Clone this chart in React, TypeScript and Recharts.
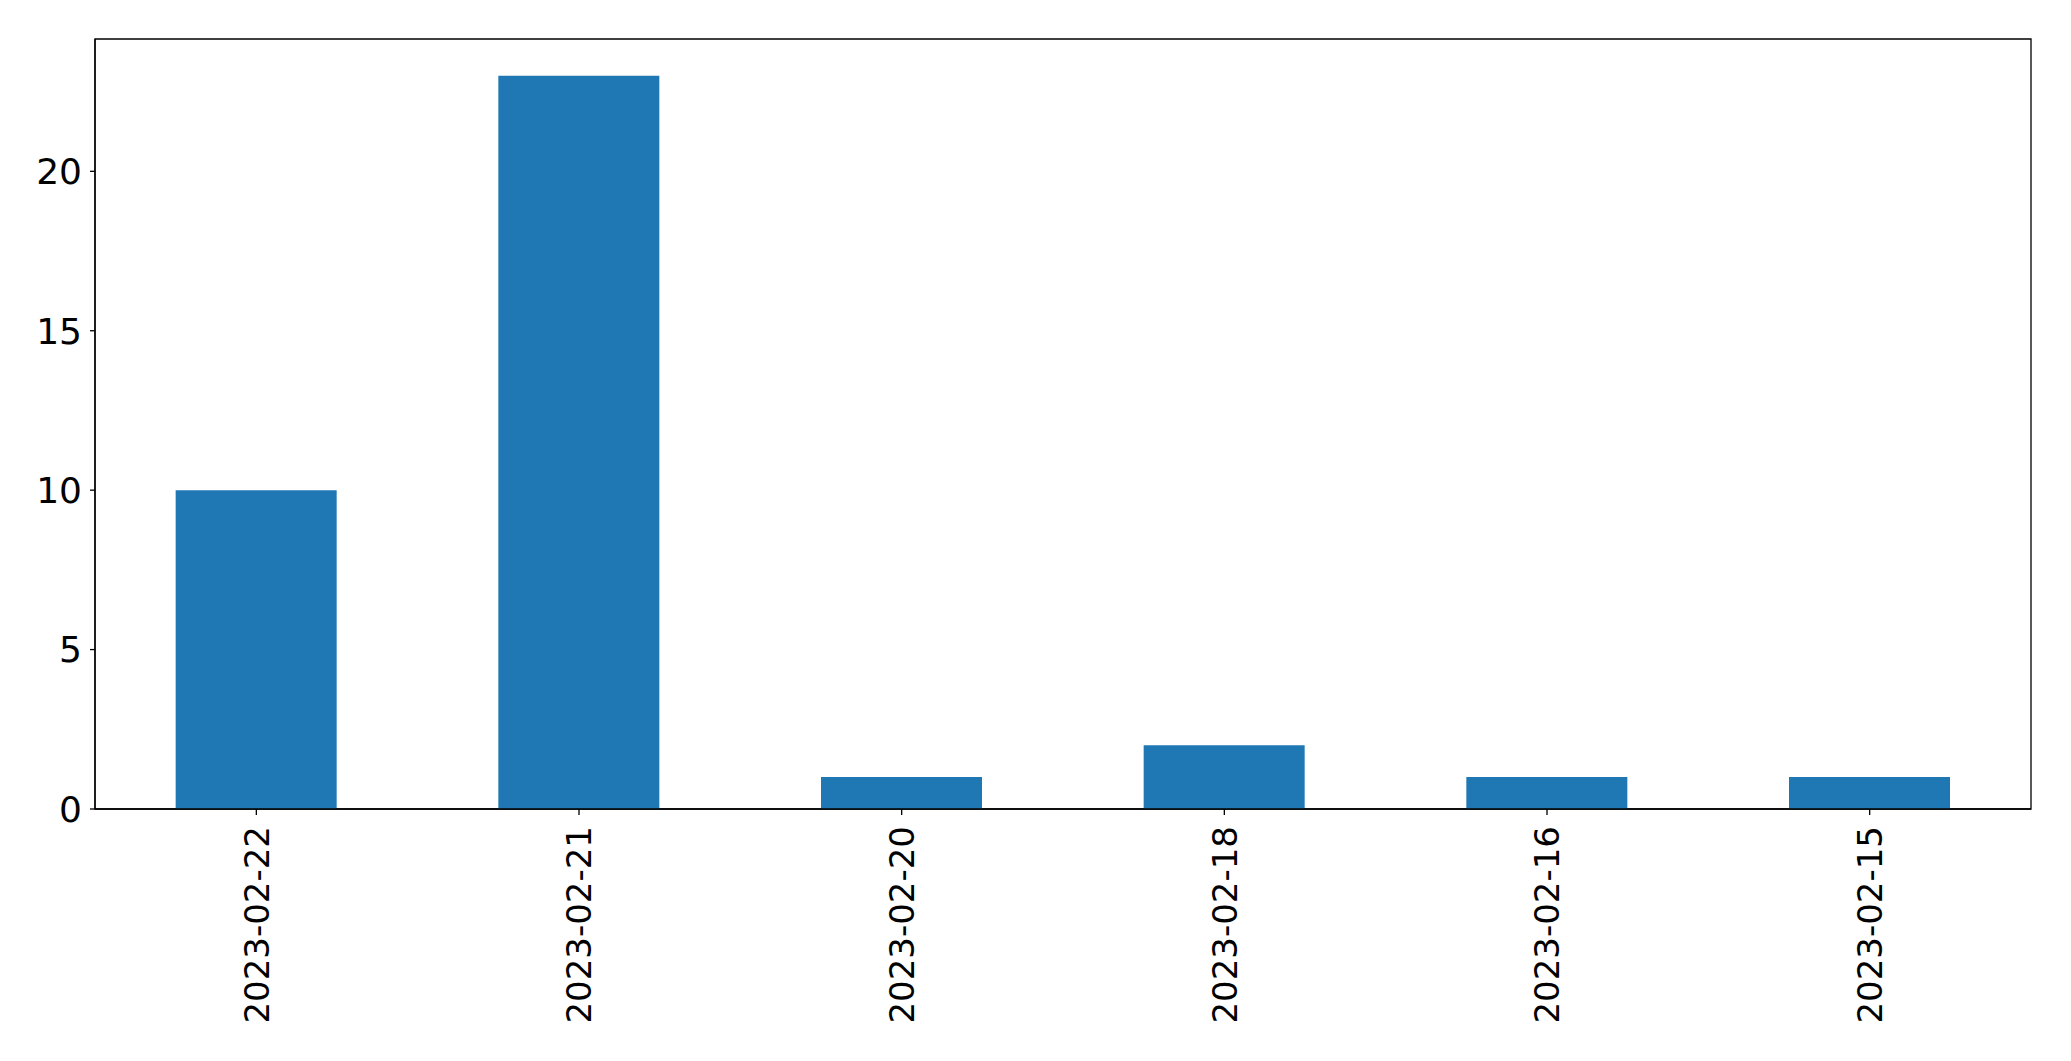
import React from 'react';
import { BarChart, Bar, XAxis, YAxis, ReferenceArea } from 'recharts';

const categories = ['2023-02-22', '2023-02-21', '2023-02-20', '2023-02-18', '2023-02-16', '2023-02-15'];
const counts = [10, 23, 1, 2, 1, 1];
const yTicks = [0, 5, 10, 15, 20];
const yMax = 24.15;

const data = categories.map((c, i) => ({ date: c, count: counts[i] }));

const FONT = 'DejaVu Sans, sans-serif';

const XTick = (props: any) => {
  const { x, y, payload } = props;
  return (
    <g transform={`translate(${x},${y})`}>
      <text
        transform="rotate(-90)"
        textAnchor="end"
        dy="0.36em"
        fill="#000"
        fontSize={34}
        fontFamily={FONT}
      >
        {payload.value}
      </text>
    </g>
  );
};

export default function App() {
  return (
    <div style={{ position: 'absolute', left: 0, top: 0, background: '#fff' }}>
      <BarChart
        width={2071}
        height={1061}
        data={data}
        margin={{ top: 39, right: 40, bottom: 12, left: 15 }}
        barCategoryGap="25%"
      >
        <XAxis
          dataKey="date"
          height={240}
          interval={0}
          tick={<XTick />}
          tickSize={6}
          tickMargin={11}
          axisLine={{ stroke: '#000', strokeWidth: 1.3 }}
          tickLine={{ stroke: '#000', strokeWidth: 1.3 }}
        />
        <YAxis
          width={80}
          domain={[0, yMax]}
          ticks={yTicks}
          interval={0}
          tickSize={5}
          tickMargin={8}
          tick={{ fill: '#000', fontSize: 36, fontFamily: FONT }}
          axisLine={{ stroke: '#000', strokeWidth: 1.3 }}
          tickLine={{ stroke: '#000', strokeWidth: 1.3 }}
        />
        <Bar dataKey="count" fill="#1f77b4" isAnimationActive={false} />
        <ReferenceArea
          y1={0}
          y2={yMax}
          fill="none"
          stroke="#000"
          strokeWidth={1.3}
          ifOverflow="visible"
        />
      </BarChart>
    </div>
  );
}
